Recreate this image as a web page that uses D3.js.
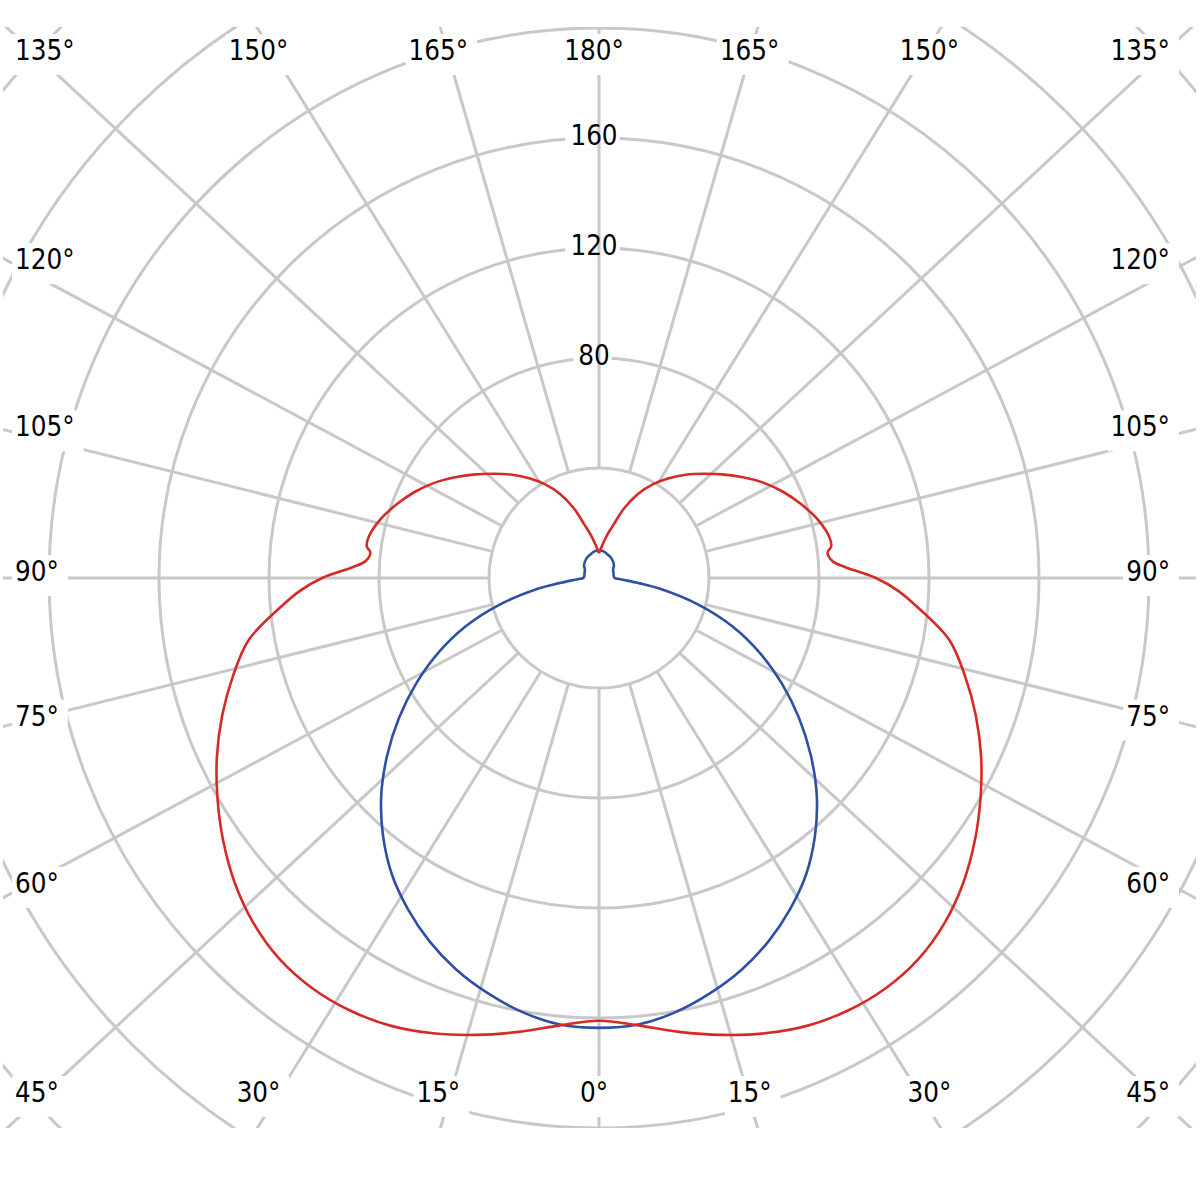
<!DOCTYPE html>
<html><head><meta charset="utf-8">
<script src="https://cdn.jsdelivr.net/npm/d3@7"></script>
<style>html,body{margin:0;padding:0;background:#fff;} svg{display:block;}</style>
</head><body>
<svg id="chart" width="1200" height="1200"></svg>
<script>
// ---- data (values in cd/klm, angles in degrees from nadir) ----
const redAngles  = [0,5,10,15,20,25,30,35,40,45,50,55,60,65,70,75,80,85,87.5,90,92.5,94,95.7,96.6,97.7,100,105,110,115,120,125,130,135,140,145,150,155,160,165,170,175,180];
const redValues  = [161,163.3,167.6,172,176.2,179.6,181.5,182,180.8,177.6,172.8,166.8,160.2,153.3,145.8,137.8,129.3,115.7,109,100.7,89.7,85.3,83.7,83.8,85.2,85.1,82.3,78.3,74,69.2,63.9,58.6,53.6,49,44.3,39.4,33.8,27.2,19.8,15.3,11.5,9];
const blueAngles = [0,5,10,15,20,25,30,35,40,45,50,55,60,65,70,75,80,82.5,85,87.5,90,100,110,120,130,140,150,160,170,180];
const blueValues = [163.6,163,160.3,156.3,151.6,145.8,139,131.4,122.2,112,100.6,88.8,76.8,64.6,51.8,37.4,22.6,15,9.8,6.8,5.7,5.4,5.6,5.9,7.1,7.9,8.6,9.1,9.8,10.2];
const ringValues = [40,80,120,160,200,240,280];
const ringLabels = [80,120,160];
const spokeStep = 15;

// ---- layout / style ----
const cx = 599, cy = 578;
const gridColor = "#c8c8c8";
const redColor = "#d52b25", blueColor = "#2f4ea6";
const fontFamily = '"DejaVu Sans Condensed","DejaVu Sans",sans-serif';
const fs = 27.5;
const rectHW = 581, rectHH = 540;   // label frame half sizes

const r = d3.scaleLinear().domain([0, 40]).range([0, 110]);

const svg = d3.select("#chart");
svg.append("rect").attr("width",1200).attr("height",1200).attr("fill","#fff");
svg.append("defs").append("clipPath").attr("id","gridClip")
  .append("rect").attr("x",3).attr("y",27).attr("width",1193).attr("height",1101);

const gridG = svg.append("g").attr("clip-path","url(#gridClip)");
const ringsG = gridG.append("g");
const radBoxG = gridG.append("g");
const spokesG = gridG.append("g");
const angBoxG = svg.append("g");
const textG = svg.append("g").attr("font-family",fontFamily).attr("font-stretch","condensed")
  .attr("font-size",fs+"px").attr("fill","#000");
const curveG = svg.append("g").attr("transform",`translate(${cx},${cy})`);

// rings
ringsG.selectAll("circle").data(ringValues).join("circle")
  .attr("cx",cx).attr("cy",cy).attr("r",d=>r(d))
  .attr("fill","none").attr("stroke",gridColor).attr("stroke-width",3);

// spokes
const spokeData = d3.range(0, 360, spokeStep).map(a => {
  const t = a*Math.PI/180;
  const u = -Math.sin(t), v = Math.cos(t);
  const m = Math.max(Math.abs(u), Math.abs(v));
  const U = u/m, V = v/m;
  const px = cx + rectHW*U, py = cy + rectHH*V;
  const dx = px-cx, dy = py-cy, L = Math.hypot(dx,dy);
  const side = Math.abs(U) >= Math.abs(V) - 1e-9;
  return {a, label: (a<=180? a : 360-a)+"°", U, V, px, py, ux: dx/L, uy: dy/L, side};
});
spokesG.selectAll("line").data(spokeData).join("line")
  .attr("x1",d=>cx+d.ux*r(40)).attr("y1",d=>cy+d.uy*r(40))
  .attr("x2",d=>cx+d.ux*1200).attr("y2",d=>cy+d.uy*1200)
  .attr("stroke",gridColor).attr("stroke-width",3);

// angle labels
const capOff = 0.364*fs;
const clampY = y => Math.max(50, Math.min(1092, y));
spokeData.forEach(d => {
  let x, y, anchor;
  if (d.side) {
    anchor = d.U < 0 ? "start" : "end";
    x = d.U < 0 ? 15 : 1170;
    y = clampY(d.py - 7);
  } else {
    anchor = "middle";
    x = d.px - 5;
    y = d.V < 0 ? 50 : 1092;
  }
  const t = textG.append("text").attr("x",x).attr("y",y+capOff).attr("text-anchor",anchor).text(d.label);
  const b = t.node().getBBox();
  angBoxG.append("rect").attr("x",b.x-3).attr("y",y-16).attr("width",b.width+12).attr("height",41).attr("fill","#fff");
});

// radial value labels
ringLabels.forEach(v => {
  const yc = cy - r(v) - 3;
  const t = textG.append("text").attr("x",cx-5).attr("y",yc+capOff).attr("text-anchor","middle").text(v);
  const b = t.node().getBBox();
  radBoxG.append("rect").attr("x",b.x-5).attr("y",b.y).attr("width",b.width+7).attr("height",b.height).attr("fill","#fff");
});

// curves
function curvePoints(angles, values){
  const rad = Math.PI/180;
  const left = angles.map((a,i)=>({ang: Math.PI + a*rad, v: values[i]})).reverse();
  const right = angles.map((a,i)=>({ang: Math.PI - a*rad, v: values[i]})).slice(1);
  return left.concat(right);
}
const line = d3.lineRadial().angle(d=>d.ang).radius(d=>r(d.v)).curve(d3.curveCatmullRom.alpha(0.5));
curveG.append("path").attr("d", line(curvePoints(blueAngles, blueValues)))
  .attr("fill","none").attr("stroke",blueColor).attr("stroke-width",2.6);
curveG.append("path").attr("d", line(curvePoints(redAngles, redValues)))
  .attr("fill","none").attr("stroke",redColor).attr("stroke-width",2.6);
</script>
</body></html>
